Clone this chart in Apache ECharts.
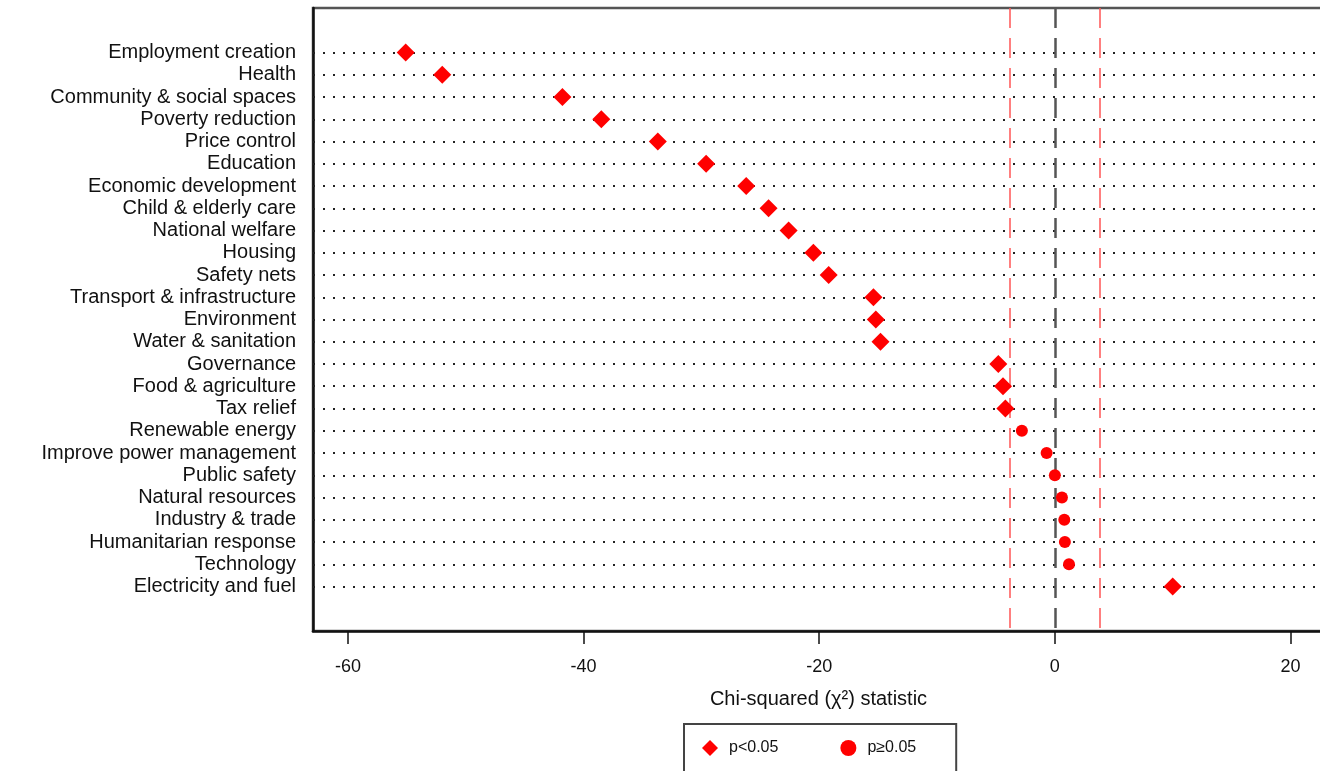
<!DOCTYPE html>
<html>
<head>
<meta charset="utf-8">
<script src="https://cdn.jsdelivr.net/npm/echarts@6/dist/echarts.min.js"></script>
<style>html,body{margin:0;padding:0;background:#fff;}#c{width:1320px;height:771px;}</style>
</head>
<body>
<div id="c"></div>
<script>
const categories = ["Employment creation","Health","Community & social spaces","Poverty reduction","Price control","Education","Economic development","Child & elderly care","National welfare","Housing","Safety nets","Transport & infrastructure","Environment","Water & sanitation","Governance","Food & agriculture","Tax relief","Renewable energy","Improve power management","Public safety","Natural resources","Industry & trade","Humanitarian response","Technology","Electricity and fuel"];
const chiSq = [-55.1,-52.0,-41.8,-38.5,-33.7,-29.6,-26.2,-24.3,-22.6,-20.5,-19.2,-15.4,-15.2,-14.8,-4.8,-4.4,-4.2,-2.8,-0.7,0.0,0.6,0.8,0.85,1.2,10.0];
const significant = [1,1,1,1,1,1,1,1,1,1,1,1,1,1,1,1,1,0,0,0,0,0,0,0,1];
const xTicks = [-60,-40,-20,0,20];
const critical = 3.84;
const legendNames = ["p<0.05","p\u22650.05"];

const sigData = [], nsData = [];
categories.forEach((c,i)=>{ (significant[i] ? sigData : nsData).push([chiSq[i], i]); });
const rowIdx = categories.map((_,i)=>i);

const font = "Arial, 'Liberation Sans', sans-serif";
const chart = echarts.init(document.getElementById('c'), null, {renderer:'canvas'});
chart.setOption({
  animation:false,
  backgroundColor:'#fff',
  grid:{left:313,right:-40,top:8,bottom:140,show:true,borderColor:'#555',borderWidth:2.5,outerBoundsMode:'none'},
  xAxis:{
    type:'value',min:-62.97,max:25.9,
    axisLine:{show:true,onZero:false,lineStyle:{color:'#111',width:2.5}},
    axisTick:{show:true,customValues:xTicks,length:13,lineStyle:{color:'#111',width:1.5}},
    axisLabel:{customValues:xTicks,margin:27,fontSize:18,color:'#111',fontFamily:font},
    splitLine:{show:false},
    name:'Chi-squared (\u03c7\u00b2) statistic',nameLocation:'middle',nameGap:58,
    nameTextStyle:{fontSize:20,color:'#111',fontFamily:font,padding:[0,36,0,0]}
  },
  yAxis:{
    type:'value',min:-2,max:26,interval:1,inverse:true,
    axisLine:{show:true,onZero:false,lineStyle:{color:'#111',width:2.5}},
    axisTick:{show:false},
    splitLine:{show:false},
    axisLabel:{customValues:rowIdx,formatter:v=>categories[v]||'',margin:17,fontSize:20,color:'#111',fontFamily:font}
  },
  legend:{
    data:legendNames,left:684,top:724,orient:'horizontal',
    borderColor:'#444',borderWidth:2,padding:[16,40,30,18],
    itemWidth:16,itemHeight:16,itemGap:62,
    textStyle:{fontSize:16,color:'#111',fontFamily:font,padding:[0,0,0,6]}
  },
  series:[
    {type:'scatter',name:'lines',data:[],z:1,silent:true,
     markLine:{silent:true,symbol:'none',label:{show:false},animation:false,
       data:rowIdx.map(i=>({yAxis:i,lineStyle:{color:'#222',width:2,type:[2,8]}}))
         .concat([
           {xAxis:-critical,lineStyle:{color:'#f55',width:1.5,type:[20,10]}},
           {xAxis:critical,lineStyle:{color:'#f55',width:1.5,type:[20,10]}},
           {xAxis:0,lineStyle:{color:'#555',width:2.5,type:[20,10]}}
         ])}},
    {type:'scatter',name:legendNames[0],data:sigData,symbol:'diamond',symbolSize:18,z:5,
     itemStyle:{color:'#ff0000',opacity:1}},
    {type:'scatter',name:legendNames[1],data:nsData,symbol:'circle',symbolSize:12,z:5,
     itemStyle:{color:'#ff0000',opacity:1}}
  ]
});
</script>
</body>
</html>
